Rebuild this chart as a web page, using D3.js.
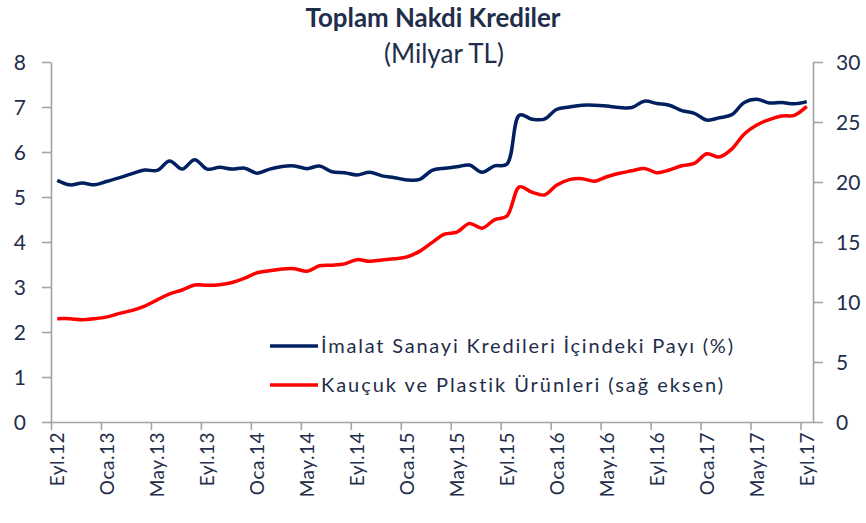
<!DOCTYPE html>
<html>
<head>
<meta charset="utf-8">
<script src="https://cdn.jsdelivr.net/npm/d3@7"></script>
<style>
  body { margin: 0; background: #fff; }
  svg { display: block; font-family: Lato, "Open Sans", sans-serif; font-variant-ligatures: none; }
  .axis path, .axis line { stroke: #a3a3a3; stroke-width: 1.6px; }
  .lbl { fill: #1f2e4a; }
</style>
</head>
<body>
<svg id="chart" width="866" height="523"></svg>
<script>
// aylar: Eyl.12 .. Eyl.17
var months = ["Eyl.12","Eki.12","Kas.12","Ara.12",
  "Oca.13","Şub.13","Mar.13","Nis.13","May.13","Haz.13","Tem.13","Ağu.13","Eyl.13","Eki.13","Kas.13","Ara.13",
  "Oca.14","Şub.14","Mar.14","Nis.14","May.14","Haz.14","Tem.14","Ağu.14","Eyl.14","Eki.14","Kas.14","Ara.14",
  "Oca.15","Şub.15","Mar.15","Nis.15","May.15","Haz.15","Tem.15","Ağu.15","Eyl.15","Eki.15","Kas.15","Ara.15",
  "Oca.16","Şub.16","Mar.16","Nis.16","May.16","Haz.16","Tem.16","Ağu.16","Eyl.16","Eki.16","Kas.16","Ara.16",
  "Oca.17","Şub.17","Mar.17","Nis.17","May.17","Haz.17","Tem.17","Ağu.17","Eyl.17"];

// İmalat sanayi kredileri içindeki payı (%), sol eksen
var imalatPay = [5.37,5.27,5.31,5.27,5.35,5.43,5.52,5.60,5.59,5.80,5.62,5.83,5.62,5.66,5.62,5.64,
  5.53,5.62,5.68,5.69,5.63,5.69,5.56,5.54,5.49,5.55,5.47,5.43,5.38,5.39,5.59,5.64,
  5.67,5.71,5.55,5.69,5.73,6.82,6.73,6.73,6.95,7.00,7.04,7.04,7.02,6.99,6.99,7.13,
  7.08,7.04,6.92,6.86,6.71,6.76,6.83,7.10,7.17,7.09,7.10,7.07,7.12];

// Kauçuk ve plastik ürünleri (milyar TL), sağ eksen
var kaucuk = [8.61,8.61,8.53,8.61,8.76,9.05,9.30,9.66,10.18,10.68,11.00,11.41,11.39,11.44,11.62,11.98,
  12.44,12.60,12.75,12.78,12.56,13.02,13.07,13.18,13.53,13.39,13.50,13.60,13.76,14.22,14.95,15.65,
  15.83,16.55,16.15,16.85,17.17,19.60,19.15,18.92,19.75,20.20,20.28,20.07,20.44,20.73,20.93,21.13,
  20.78,21.00,21.35,21.55,22.35,22.08,22.75,24.00,24.75,25.20,25.50,25.56,26.30];

var leftTicks = [0,1,2,3,4,5,6,7,8];
var rightTicks = [0,5,10,15,20,25,30];
var seriesNames = ["İmalat Sanayi Kredileri İçindeki Payı (%)", "Kauçuk ve Plastik Ürünleri (sağ eksen)"];

var svg = d3.select("#chart");
var plotL = 51, plotR = 813, plotT = 62, plotB = 422;

var x = d3.scaleLinear().domain([0, months.length]).range([plotL, plotR]);
var yL = d3.scaleLinear().domain([0, 8]).range([plotB, plotT]);
var yR = d3.scaleLinear().domain([0, 30]).range([plotB, plotT]);

// eksenler
svg.append("g").attr("class", "axis").attr("transform", "translate(" + plotL + ",0)")
  .call(d3.axisLeft(yL).tickValues(leftTicks).tickSize(9).tickSizeOuter(0).tickFormat(""));
svg.append("g").attr("class", "axis").attr("transform", "translate(" + plotR + ",0)")
  .call(d3.axisRight(yR).tickValues(rightTicks).tickSize(10).tickSizeOuter(0).tickFormat(""));
svg.append("g").attr("class", "axis").attr("transform", "translate(0," + plotB + ")")
  .call(d3.axisBottom(x).tickValues(d3.range(0, months.length, 4)).tickSize(8).tickSizeOuter(0).tickFormat(""));

svg.selectAll(".ltick").data(leftTicks).enter().append("text")
  .attr("class", "lbl").attr("x", 26).attr("y", function(d){ return yL(d); })
  .attr("dy", "0.36em").attr("text-anchor", "end").style("font-size", "21px")
  .text(function(d){ return d; });

svg.selectAll(".rtick").data(rightTicks).enter().append("text")
  .attr("class", "lbl").attr("x", 836).attr("y", function(d){ return yR(d); })
  .attr("dy", "0.36em").style("font-size", "21px")
  .text(function(d){ return d; });

svg.selectAll(".xtick").data(d3.range(0, months.length, 4)).enter().append("text")
  .attr("class", "lbl")
  .attr("transform", function(i){ return "translate(" + x(i + 0.5) + "," + (plotB + 10) + ") rotate(-90)"; })
  .attr("dy", "0.36em").attr("text-anchor", "end").style("font-size", "19px")
  .style("letter-spacing", "0.5px")
  .text(function(i){ return months[i]; });

// çizgiler
var lineL = d3.line().x(function(d, i){ return x(i + 0.5); }).y(function(d){ return yL(d); }).curve(d3.curveCatmullRom);
var lineR = d3.line().x(function(d, i){ return x(i + 0.5); }).y(function(d){ return yR(d); }).curve(d3.curveCatmullRom);

svg.append("path").datum(kaucuk).attr("d", lineR)
  .attr("fill", "none").attr("stroke", "#ff0000").attr("stroke-width", 3.5).attr("stroke-linejoin", "round");
svg.append("path").datum(imalatPay).attr("d", lineL)
  .attr("fill", "none").attr("stroke", "#002060").attr("stroke-width", 3.5).attr("stroke-linejoin", "round");

// başlık
svg.append("text").attr("class", "lbl").attr("x", 433).attr("y", 27)
  .attr("text-anchor", "middle").style("font-size", "27px").style("font-weight", "bold")
  .attr("textLength", 255).attr("lengthAdjust", "spacingAndGlyphs")
  .text("Toplam Nakdi Krediler");
svg.append("text").attr("class", "lbl").attr("x", 444).attr("y", 63)
  .attr("text-anchor", "middle").style("font-size", "26px")
  .text("(Milyar TL)");

// lejant
var colors = ["#002060", "#ff0000"];
var leg = svg.selectAll(".leg").data(seriesNames).enter().append("g")
  .attr("transform", function(d, i){ return "translate(270," + (346 + i * 39) + ")"; });
leg.append("line").attr("x1", 0).attr("x2", 48).attr("y1", 0).attr("y2", 0)
  .attr("stroke", function(d, i){ return colors[i]; }).attr("stroke-width", 3.5);
leg.append("text").attr("class", "lbl").attr("x", 51).attr("dy", "0.36em")
  .style("font-size", "20px")
  .attr("textLength", function(d, i){ return i == 0 ? 412 : 402; }).attr("lengthAdjust", "spacing")
  .text(function(d){ return d; });
</script>
</body>
</html>
